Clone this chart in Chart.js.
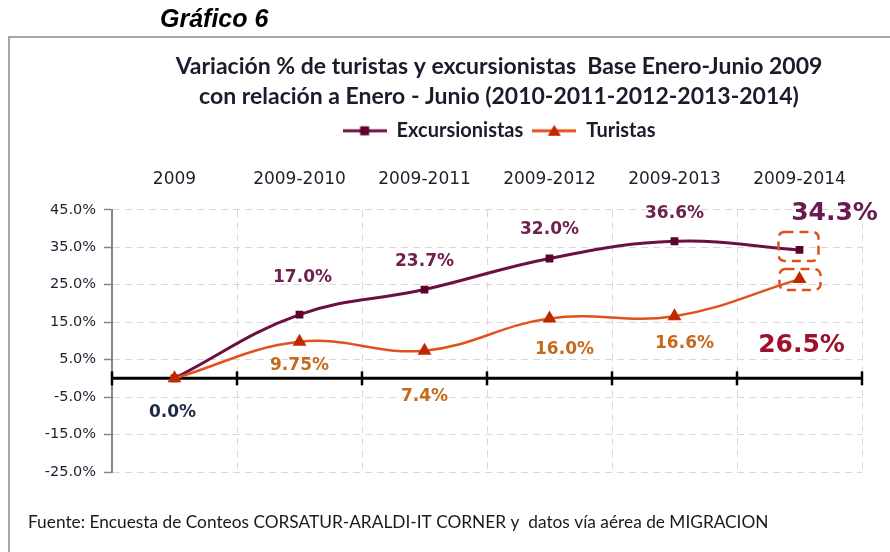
<!DOCTYPE html>
<html>
<head>
<meta charset="utf-8">
<script src="https://cdn.jsdelivr.net/npm/chart.js@4/dist/chart.umd.min.js"></script>
<style>
  html, body { margin: 0; padding: 0; background: #ffffff; }
  #wrap { width: 890px; height: 552px; position: relative; }
</style>
</head>
<body>
<div id="wrap"><canvas id="c" width="890" height="552"></canvas></div>
<script>
// ---- data ----
const categories = ['2009', '2009-2010', '2009-2011', '2009-2012', '2009-2013', '2009-2014'];
const excursionistas = [0.0, 17.0, 23.7, 32.0, 36.6, 34.3];
const turistas = [0.0, 9.75, 7.4, 16.0, 16.6, 26.5];
const yTicks = [-25, -15, -5, 5, 15, 25, 35, 45];
const seriesNames = ['Excursionistas', 'Turistas'];
const titleLines = [
  'Variación % de turistas y excursionistas  Base Enero-Junio 2009',
  'con relación a Enero - Junio (2010-2011-2012-2013-2014)'
];
const figureLabel = 'Gráfico 6';
const sourceNote = 'Fuente: Encuesta de Conteos CORSATUR-ARALDI-IT CORNER y  datos vía aérea de MIGRACION';

// ---- styles ----
const EXC_LINE = '#6B1040', EXC_MARK = '#5E0030';
const TUR_LINE = '#E2511B', TUR_MARK = '#C02800';

// data label styles (per point): [dx, dy, color, size] ; null = no label
const labelStyles = [
  [[-2, 34, '#1F2A44', 17], [3, -37, '#70204F', 17], [0, -28, '#70204F', 17], [0, -29, '#70204F', 17], [0, -28, '#70204F', 17], [35, -36, '#6B1A4F', 25]],
  [null, [0, 24, '#C46A1E', 17], [0, 46, '#C46A1E', 17], [15, 31, '#C46A1E', 17], [10, 27, '#C46A1E', 17], [2, 66, '#A0102A', 25]]
];

function fmtPct(v) {
  return (Number.isInteger(Math.round(v * 10 * 1000) / 1000) ? v.toFixed(1) : String(v)) + '%';
}

function legendIcon(lineColor, markColor, shape) {
  const cv = document.createElement('canvas');
  cv.width = 44; cv.height = 14;
  const g = cv.getContext('2d');
  g.strokeStyle = lineColor; g.lineWidth = 3;
  g.beginPath(); g.moveTo(0, 7); g.lineTo(44, 7); g.stroke();
  g.fillStyle = markColor;
  if (shape === 'rect') { g.fillRect(17.5, 2.5, 9, 9); }
  else { g.beginPath(); g.moveTo(22, 1); g.lineTo(28.5, 12); g.lineTo(15.5, 12); g.closePath(); g.fill(); }
  return cv;
}
const icons = [legendIcon(EXC_LINE, EXC_MARK, 'rect'), legendIcon(TUR_LINE, TUR_MARK, 'tri')];

const decorPlugin = {
  id: 'decor',
  afterLayout(chart) {
    const t = chart.titleBlock;
    if (t) { const dx = 499 - (t.left + t.right) / 2; t.left += dx; t.right += dx; }
    const l = chart.legend;
    if (l) { const dx = 499 - (l.left + l.right) / 2; l.left += dx; l.right += dx; }
  },
  beforeDraw(chart) {
    const ctx = chart.ctx;
    ctx.save();
    ctx.strokeStyle = '#A6A6A6'; ctx.lineWidth = 2;
    ctx.beginPath(); ctx.moveTo(9, 552); ctx.lineTo(9, 37); ctx.lineTo(890, 37); ctx.stroke();
    ctx.fillStyle = '#000000';
    ctx.font = 'italic bold 25px "Liberation Sans", Arial, sans-serif';
    ctx.textBaseline = 'alphabetic';
    ctx.fillText(figureLabel, 160, 27);
    ctx.font = '17.3px Lato, sans-serif';
    ctx.fillStyle = '#1A1A1A';
    ctx.fillText(sourceNote, 28, 528, 742);
    ctx.restore();
  },
  beforeDatasetsDraw(chart) {
    const ctx = chart.ctx, x = chart.scales.x, y = chart.scales.y;
    const y0 = y.getPixelForValue(0);
    const n = categories.length;
    const bounds = [chart.chartArea.left];
    for (let i = 0; i < n - 1; i++) bounds.push((x.getPixelForValue(i) + x.getPixelForValue(i + 1)) / 2);
    bounds.push(chart.chartArea.right);
    ctx.save();
    ctx.strokeStyle = '#000000'; ctx.lineWidth = 3;
    ctx.beginPath(); ctx.moveTo(bounds[0], y0); ctx.lineTo(bounds[n], y0); ctx.stroke();
    ctx.lineWidth = 2.5;
    bounds.forEach(b => { ctx.beginPath(); ctx.moveTo(b, y0 - 7); ctx.lineTo(b, y0 + 7); ctx.stroke(); });
    ctx.restore();
  },
  afterDatasetsDraw(chart) {
    const ctx = chart.ctx;
    ctx.save();
    ctx.textAlign = 'center'; ctx.textBaseline = 'middle';
    chart.data.datasets.forEach((ds, di) => {
      const meta = chart.getDatasetMeta(di);
      ds.data.forEach((v, i) => {
        const st = labelStyles[di][i];
        if (!st) return;
        const p = meta.data[i];
        ctx.font = 'bold ' + st[3] + 'px "DejaVu Sans", sans-serif';
        ctx.fillStyle = st[2];
        ctx.fillText(fmtPct(v), p.x + st[0], p.y + st[1]);
      });
    });
    // dashed highlight boxes around the last points
    ctx.strokeStyle = '#D9531E'; ctx.lineWidth = 2.5; ctx.setLineDash([9, 6]);
    const last = categories.length - 1;
    const pe = chart.getDatasetMeta(0).data[last];
    const pt = chart.getDatasetMeta(1).data[last];
    ctx.beginPath(); ctx.roundRect(pe.x - 21, pe.y - 18, 40, 29, 6); ctx.stroke();
    ctx.beginPath(); ctx.roundRect(pt.x - 20, pt.y - 10, 41, 21, 6); ctx.stroke();
    ctx.restore();
  }
};

new Chart(document.getElementById('c'), {
  type: 'line',
  data: {
    labels: categories,
    datasets: [
      {
        label: seriesNames[0], data: excursionistas, order: 1,
        borderColor: EXC_LINE, backgroundColor: EXC_MARK, borderWidth: 3,
        pointStyle: 'rect', pointRadius: 5.5, pointBackgroundColor: EXC_MARK, pointBorderColor: EXC_MARK, pointBorderWidth: 0,
        tension: 0.4, fill: false
      },
      {
        label: seriesNames[1], data: turistas, order: 0,
        borderColor: TUR_LINE, backgroundColor: TUR_MARK, borderWidth: 2.5,
        pointStyle: 'triangle', pointRadius: 8, pointBackgroundColor: TUR_MARK, pointBorderColor: TUR_MARK, pointBorderWidth: 0,
        tension: 0.4, fill: false
      }
    ]
  },
  options: {
    responsive: false,
    animation: false,
    layout: { padding: { top: 52, left: 0, right: 28, bottom: 80 } },
    plugins: {
      tooltip: { enabled: false },
      title: {
        display: true, text: titleLines, color: '#1B1B2B',
        font: { family: 'Lato, sans-serif', size: 23, weight: 'bold', lineHeight: 1.3 },
        padding: { top: 0, bottom: 0 }
      },
      legend: {
        display: true, position: 'top',
        labels: {
          color: '#1B1B2B',
          font: { family: 'Lato, sans-serif', size: 20, weight: 'bold' },
          usePointStyle: true, pointStyleWidth: 44, padding: 9,
          sort: (a, b) => a.datasetIndex - b.datasetIndex,
          generateLabels: (chart) => chart.data.datasets.map((ds, i) => ({
            text: ds.label, pointStyle: icons[i], datasetIndex: i,
            fillStyle: ds.borderColor, strokeStyle: ds.borderColor, lineWidth: 0, hidden: false, fontColor: '#1B1B2B'
          }))
        }
      }
    },
    scales: {
      x: {
        position: 'top', offset: true,
        grid: { offset: true, color: '#D9D9D9', lineWidth: 1, drawTicks: false },
        border: { display: false, dash: [7, 5] },
        ticks: { color: '#1F1F2F', font: { family: '"DejaVu Sans", sans-serif', size: 17 }, padding: 20, maxRotation: 0 },
        afterFit: (s) => { s.height = 59; }
      },
      y: {
        min: -25, max: 45,
        afterBuildTicks: (s) => { s.ticks = yTicks.map(v => ({ value: v })); },
        grid: { color: '#D9D9D9', lineWidth: 1, tickLength: 8, tickColor: '#868686', tickWidth: 1.5, tickBorderDash: [] },
        border: { display: true, color: '#868686', width: 2, dash: [7, 5] },
        ticks: {
          color: '#1F1F2F', padding: 8,
          font: { family: '"DejaVu Sans", sans-serif', size: 14.5 },
          callback: (v) => v.toFixed(1) + '%'
        },
        afterFit: (s) => { s.width = 112; }
      }
    }
  },
  plugins: [decorPlugin]
});
</script>
</body>
</html>
